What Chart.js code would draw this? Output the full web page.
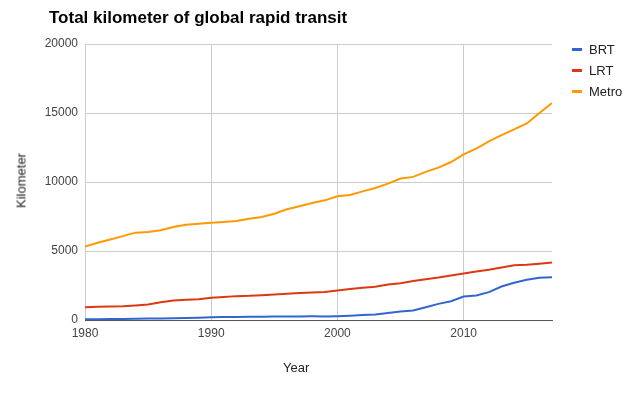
<!DOCTYPE html>
<html lang="en">
<head>
  <meta charset="UTF-8">
  <title>Total kilometer of global rapid transit</title>
  <script src="https://cdn.jsdelivr.net/npm/chart.js"></script>
  <style>
    body {
      margin: 0;
      background: #fff;
      font-family: Arial, 'Liberation Sans', sans-serif;
    }
    .wrap {
      position: relative;
      width: 627px;
      height: 393px;
    }
    canvas {
      position: absolute;
      left: 0;
      top: 0;
    }
    .title {
      position: absolute;
      left: 49px;
      top: 8px;
      font-size: 17px;
      font-weight: bold;
      color: #000;
      white-space: nowrap;
    }
    .xlabel {
      position: absolute;
      left: 283px;
      top: 360px;
      font-size: 13px;
      color: #222;
    }
    .ylabel {
      position: absolute;
      left: -9px;
      top: 173px;
      width: 60px;
      text-align: center;
      font-size: 13px;
      color: #222;
      transform: rotate(-90deg);
    }
    .legend {
      position: absolute;
      left: 572px;
      top: 41px;
      font-size: 13px;
      color: #222;
    }
    .legend div {
      height: 21px;
      line-height: 18px;
      white-space: nowrap;
    }
    .legend span {
      display: inline-block;
      width: 10px;
      height: 3px;
      vertical-align: middle;
      margin-right: 7px;
      margin-top: -2px;
    }
  </style>
</head>
<body>
  <div class="wrap">
    <canvas id="chart" width="627" height="393"></canvas>
    <div class="title">Total kilometer of global rapid transit</div>
    <div class="ylabel">Kilometer</div>
    <div class="xlabel">Year</div>
    <div class="legend" id="legend"></div>
  </div>

  <script>
    // Data
    const years = [];
    for (let y = 1980; y <= 2017; y++) years.push(y);

    const brt = [60, 60, 70, 80, 90, 100, 110, 120, 140, 160,
                 200, 210, 220, 230, 240, 250, 250, 260, 270, 260,
                 280, 310, 360, 400, 500, 620, 690, 930, 1170, 1360,
                 1700, 1780, 2020, 2430, 2700, 2920, 3060, 3100];
    const lrt = [930, 960, 970, 990, 1050, 1120, 1290, 1410, 1460, 1510,
                 1610, 1660, 1730, 1750, 1800, 1850, 1900, 1950, 2000, 2030,
                 2140, 2240, 2340, 2410, 2580, 2670, 2820, 2960, 3080, 3230,
                 3370, 3520, 3640, 3810, 3960, 4000, 4080, 4170];
    const metro = [5330, 5600, 5840, 6080, 6330, 6370, 6500, 6740, 6900, 6980,
                   7050, 7100, 7170, 7340, 7460, 7700, 8020, 8240, 8480, 8670,
                   8960, 9060, 9320, 9570, 9880, 10250, 10370, 10730, 11040, 11450,
                   12000, 12420, 12950, 13390, 13820, 14240, 15000, 15730];

    const seriesNames = ['BRT', 'LRT', 'Metro'];
    const seriesData = [brt, lrt, metro];
    const colors = ['#3366cc', '#dc3912', '#ff9900'];
    const yTicks = [0, 5000, 10000, 15000, 20000];

    // HTML legend
    const legend = document.getElementById('legend');
    seriesNames.forEach((name, i) => {
      const row = document.createElement('div');
      row.innerHTML = '<span style="background:' + colors[i] + '"></span>' + name;
      legend.appendChild(row);
    });

    const tickFont = { family: 'Arial, Liberation Sans', size: 12 };

    const ctx = document.getElementById('chart').getContext('2d');
    new Chart(ctx, {
      type: 'line',
      data: {
        datasets: seriesNames.map((name, i) => ({
          label: name,
          data: years.map((yr, j) => ({ x: yr, y: seriesData[i][j] })),
          borderColor: colors[i],
          backgroundColor: colors[i],
          borderWidth: 2,
          pointRadius: 0,
          tension: 0,
          fill: false
        }))
      },
      options: {
        responsive: false,
        animation: false,
        layout: {
          padding: { left: 0, top: 44, right: 75, bottom: 0 }
        },
        plugins: {
          legend: { display: false },
          title: { display: false },
          tooltip: { enabled: false }
        },
        scales: {
          x: {
            type: 'linear',
            min: 1980,
            max: 2017,
            afterBuildTicks: scale => {
              scale.ticks = scale.ticks.filter(t => t.value % 10 === 0);
            },
            afterFit: scale => { scale.height = 73; },
            ticks: {
              stepSize: 10,
              color: '#444',
              font: tickFont,
              padding: 6,
              maxRotation: 0,
              callback: v => String(v)
            },
            grid: {
              color: '#cccccc',
              drawTicks: false
            },
            border: { display: true, color: '#555555', width: 1 }
          },
          y: {
            min: 0,
            max: 20000,
            afterBuildTicks: scale => {
              scale.ticks = yTicks.map(v => ({ value: v }));
            },
            afterFit: scale => { scale.width = 85; },
            ticks: {
              color: '#444',
              font: tickFont,
              padding: 7,
              callback: v => String(v)
            },
            grid: {
              color: '#cccccc',
              drawTicks: false
            },
            border: { display: false }
          }
        }
      }
    });
  </script>
</body>
</html>
